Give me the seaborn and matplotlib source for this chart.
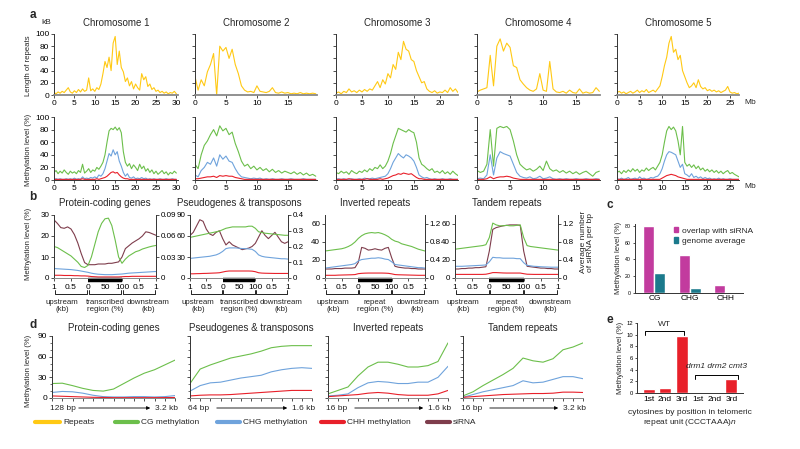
import numpy as np
import pandas as pd
import matplotlib.pyplot as plt
import seaborn as sns
from matplotlib.lines import Line2D
from matplotlib.patches import Patch
from matplotlib import transforms

sns.set_style('ticks')
plt.rcParams['font.family'] = ['Liberation Sans', 'DejaVu Sans']
plt.rcParams['mathtext.fontset'] = 'custom'
plt.rcParams['mathtext.it'] = 'Liberation Sans:italic'
plt.rcParams['mathtext.rm'] = 'Liberation Sans'

YELLOW = '#FFC914'
GREEN = '#6CBF4B'
BLUE = '#6FA3DC'
RED = '#E8202A'
BROWN = '#7E3D4C'
MAGENTA = '#C23B9E'
TEAL = '#1B7A8C'
AXC = '#333333'

# ---------------- panel a data (0.5 Mb bins) ----------------
STEP = 0.5
chrom_names = ['Chromosome 1', 'Chromosome 2', 'Chromosome 3', 'Chromosome 4', 'Chromosome 5']
chrom_len = [30.4, 19.7, 23.5, 18.6, 27.0]
chrom_xticks = [[0, 5, 10, 15, 20, 25, 30], [0, 5, 10, 15], [0, 5, 10, 15, 20],
                [0, 5, 10, 15], [0, 5, 10, 15, 20, 25]]

chr1_rep = [4, 2, 5, 3, 6, 4, 8, 12, 5, 3, 7, 4, 9, 5, 10, 6, 8, 28, 7, 10,
            6, 12, 9, 18, 35, 55, 45, 62, 40, 85, 96, 50, 72, 45, 38, 22, 28, 15, 22, 10,
            18, 12, 8, 35, 25, 30, 14, 18, 9, 12, 6, 8, 4, 6, 3, 5, 2, 4, 3, 6, 2]
chr1_cg = [12, 15, 10, 14, 11, 16, 12, 9, 14, 11, 13, 10, 15, 12, 25, 11, 14, 18, 12, 16,
           14, 20, 17, 22, 28, 40, 60, 78, 82, 80, 84, 79, 83, 75, 45, 28, 22, 26, 18, 24,
           20, 15, 25, 18, 22, 14, 18, 12, 16, 10, 14, 9, 12, 15, 10, 13, 8, 12, 10, 14, 11]
chr1_chg = [1, 2, 1, 2, 1, 1, 2, 1, 2, 1, 3, 1, 2, 1, 5, 2, 3, 2, 4, 3,
            5, 3, 8, 6, 10, 18, 30, 42, 38, 48, 40, 45, 30, 22, 12, 6, 10, 4, 3, 5,
            2, 3, 2, 4, 2, 3, 1, 2, 1, 2, 1, 1, 2, 1, 1, 2, 1, 1, 2, 1, 1]
chr1_chh = [1, 1, 1, 1, 1, 1, 1, 1, 1, 1, 1, 1, 1, 1, 2, 1, 1, 1, 1, 1, 1, 2, 1, 2,
            3, 4, 6, 9, 12, 13, 11, 12, 8, 5, 3, 2, 2,
            1, 1, 1, 1, 1, 1, 1, 1, 1, 1, 1, 1, 1, 1, 1, 1, 1, 1, 1, 1, 1, 1, 1, 1]

chr2_rep = [30, 8, 25, 15, 38, 50, 68, 0, 80, 72, 78, 60, 75, 50, 35, 15,
            8, 5, 6, 4, 15, 6, 5, 4, 6, 12, 4, 3, 5, 3, 4, 2, 3, 2, 4, 2, 3, 2, 3, 2]
chr2_cg = [25, 18, 40, 55, 62, 72, 80, 70, 86, 78, 82, 72, 76, 58, 45, 30, 22, 25, 18, 22,
           16, 20, 15, 18, 13, 17, 12, 15, 11, 14, 12, 10, 13, 9, 12, 8, 11, 7, 9, 6]
chr2_chg = [8, 5, 15, 20, 28, 25, 35, 22, 40, 33, 38, 30, 28, 18, 10, 5, 4, 3, 2, 3,
            2, 3, 1, 2, 1, 2, 1, 1, 2, 1, 1, 2, 1, 1, 1, 2, 1, 1, 1, 1]
chr2_chh = [2, 2, 3, 4, 5, 5, 6, 4, 7, 6, 7, 6, 6, 4, 3, 2,
            1, 1, 1, 1, 1, 1, 1, 1, 1, 1, 1, 1, 1, 1, 1, 1, 1, 1, 1, 1, 1, 1, 1, 1]

chr3_rep = [3, 5, 2, 6, 4, 10, 5, 7, 4, 8, 5, 9, 6, 10, 8, 15, 22, 12, 25, 18, 35, 28, 50, 42,
            70, 58, 88, 75, 72, 58, 55, 40, 30, 20, 22, 10, 6, 4, 7, 3, 5, 4, 8, 4, 12, 6, 10, 4]
chr3_cg = [12, 10, 14, 11, 13, 9, 15, 12, 10, 14, 12, 16, 13, 18, 15, 20, 18, 24, 18, 22,
           30, 42, 58, 70, 82, 80, 78, 76, 80, 77, 75, 60, 35, 25, 22, 18, 15, 18, 12, 14,
           11, 15, 10, 13, 9, 14, 10, 7]
chr3_chg = [1, 2, 1, 2, 1, 1, 2, 1, 1, 2, 1, 3, 2, 2, 3, 2, 3, 4,
            5, 6, 10, 18, 28, 35, 42, 38, 35, 40, 38, 35, 30, 20, 8, 5, 3, 4,
            2, 1, 2, 1, 1, 2, 1, 1, 2, 1, 1, 1]
chr3_chh = [1, 1, 1, 1, 1, 2, 1, 1, 1, 1, 1, 1, 2, 1, 1, 1, 1, 2, 1, 2,
            3, 5, 7, 8, 10, 9, 11, 10, 9, 10, 7, 4, 2, 2,
            1, 1, 1, 1, 1, 1, 1, 1, 1, 1, 1, 1, 1, 1]

chr4_rep = [5, 8, 10, 12, 65, 15, 80, 92, 72, 85, 78, 48, 45, 25, 18, 12, 8, 6, 10, 35,
            8, 6, 55, 10, 5, 4, 6, 3, 8, 4, 3, 10, 3, 5, 3, 4, 12, 6]
chr4_cg = [15, 12, 14, 25, 80, 22, 82, 85, 83, 85, 80, 62, 40, 25, 20, 16, 18, 14, 17, 22,
           15, 30, 18, 14, 16, 12, 15, 11, 14, 10, 13, 9, 12, 14, 10, 6, 12, 14]
chr4_chg = [2, 3, 2, 8, 40, 8, 35, 45, 42, 40, 38, 25, 12, 6, 4, 3, 5, 2, 3, 6,
            2, 3, 5, 2, 1, 2, 1, 2, 1, 1, 2, 1, 1, 2, 1, 1, 2, 1]
chr4_chh = [1, 1, 1, 2, 5, 2, 4, 5, 5, 6, 5, 3, 2, 1,
            1, 1, 1, 1, 1, 1, 1, 1, 1, 1, 1, 1, 1, 1, 1, 1, 1, 1, 1, 1, 1, 1, 1, 1]

chr5_rep = [4, 6, 3, 5, 2, 4, 6, 3, 5, 8, 4, 7, 5, 9, 4, 6, 8, 5, 10, 15,
            30, 48, 62, 85, 96, 70, 75, 58, 65, 40, 30, 20, 12, 15, 20, 12, 25, 14, 10, 12,
            7, 9, 6, 8, 5, 7, 4, 6, 8, 14, 5, 3, 4, 2, 3]
chr5_cg = [12, 14, 10, 15, 12, 16, 13, 18, 14, 17, 12, 16, 14, 19, 15, 18, 20, 16, 22, 28,
           40, 60, 78, 85, 80, 84, 78, 62, 40, 85, 28, 22, 25, 20, 24, 18, 22, 16, 19, 14,
           17, 13, 16, 12, 15, 11, 14, 10, 13, 15, 10, 12, 9, 7, 5]
chr5_chg = [2, 1, 3, 1, 2, 4, 1, 2, 3, 1, 5, 2, 3, 1, 2, 4, 3, 5,
            6, 10, 18, 30, 40, 45, 44, 42, 40, 30, 20, 25, 10, 8, 5, 10, 4, 6,
            3, 5, 2, 4, 2, 3, 1, 2, 1, 3, 1, 2, 1, 1, 2, 1, 1, 1, 1]
chr5_chh = [1, 1, 1, 1, 1, 1, 1, 1, 1, 1, 1, 1, 1, 1, 1, 1, 1, 1, 1, 1,
            3, 5, 7, 8, 9, 8, 7, 5, 4, 3, 2,
            1, 1, 1, 1, 1, 1, 1, 1, 1, 1, 1, 1, 1, 1, 1, 1, 1, 1, 1, 1, 1, 1, 1, 1]

rep_all = [chr1_rep, chr2_rep, chr3_rep, chr4_rep, chr5_rep]
cg_all = [chr1_cg, chr2_cg, chr3_cg, chr4_cg, chr5_cg]
chg_all = [chr1_chg, chr2_chg, chr3_chg, chr4_chg, chr5_chg]
chh_all = [chr1_chh, chr2_chh, chr3_chh, chr4_chh, chr5_chh]

# ---------------- panel b data (metagene, 0-1 upstream, 1-2 body, 2-3 downstream) ----------------
b_titles = ['Protein-coding genes', 'Pseudogenes & transposons', 'Inverted repeats', 'Tandem repeats']
b_x = [i / 10 for i in range(31)]
pc_cg = [15, 14.5, 13.5, 12.5, 11.5, 10.5, 9, 7.5, 5.5, 5, 6, 10, 16, 22, 26, 28.2, 28.5, 25, 18, 10,
         7, 9, 10.5, 11.5, 12.5, 13, 13.8, 14.3, 14.8, 15.2, 15.5]
pc_chg = [4.5, 4.4, 4.3, 4.2, 4.1, 4, 3.8, 3.6, 3.3, 3, 2.7, 2.3, 2, 1.8, 1.7, 1.6, 1.6, 1.6, 1.7, 1.8,
          1.9, 2.1, 2.3, 2.4, 2.5, 2.6, 2.7, 2.8, 2.9, 3, 3.1]
pc_chh = [1.3, 1.3, 1.3, 1.2, 1.2, 1.2, 1.1, 1.1, 1, 1, 0.9, 0.7, 0.6, 0.5, 0.5, 0.5, 0.5, 0.5, 0.5, 0.5,
          0.6, 0.7, 0.7, 0.8, 0.8, 0.8, 0.8, 0.8, 0.8, 0.8, 0.8]
pc_sirna = [0.083, 0.078, 0.072, 0.071, 0.073, 0.07, 0.062, 0.05, 0.035, 0.022, 0.019, 0.019, 0.019,
            0.02, 0.02, 0.02, 0.021, 0.021, 0.022, 0.023, 0.03, 0.042, 0.046, 0.05, 0.053, 0.056,
            0.06, 0.066, 0.065, 0.063, 0.061]
ps_cg = [58, 59, 60, 61, 62, 63, 64, 65, 66, 67, 69, 71, 72, 73, 73, 73, 73, 73, 74, 74,
         71, 66, 65, 64, 63.5, 63, 62.5, 62, 61.5, 61, 61]
ps_chg = [28, 28.5, 29, 29.5, 30, 30.5, 31, 32, 33, 35, 38, 42, 43, 43, 43, 42.5, 42, 42, 41.5, 41,
          38, 33, 31, 30, 29.5, 29, 28.5, 28, 27.5, 27.5, 27]
ps_chh = [6, 6, 6.2, 6.3, 6.5, 6.6, 6.8, 7, 7.2, 7.5, 8.5, 9.5, 10, 10, 10, 10, 10, 10, 10, 9.8,
          9, 7.5, 7, 6.8, 6.7, 6.6, 6.5, 6.5, 6.5, 6.5, 6.5]
ps_sirna = [0.27, 0.29, 0.33, 0.37, 0.36, 0.31, 0.28, 0.27, 0.29, 0.3, 0.25, 0.21, 0.23, 0.21, 0.2,
            0.19, 0.18, 0.185, 0.19, 0.2, 0.22, 0.26, 0.3, 0.27, 0.25, 0.27, 0.29, 0.26, 0.23, 0.22, 0.23]
ir_cg = [30, 30.5, 31, 31.5, 32, 32.5, 33.5, 35, 37, 40, 44, 47, 49, 50, 50.5, 50, 50.5, 49.5, 48, 46,
         43, 41, 40, 38, 37, 36, 35, 33.5, 32, 31, 30]
ir_chg = [11, 11.5, 12, 12.5, 13, 13.5, 14, 14.5, 15, 16, 19, 20.5, 21, 21.5, 22, 22, 22.5, 22, 21, 20.5,
          18, 15, 14.5, 14, 13.5, 13, 12.5, 12, 11.5, 11.5, 11]
ir_chh = [3, 3, 3, 3, 3.2, 3.3, 3.4, 3.5, 3.6, 3.8, 4.8, 5.2, 5.4, 5.5, 5.5, 5.5, 5.5, 5.5, 5.4, 5.2,
          4.6, 3.8, 3.6, 3.5, 3.4, 3.3, 3.2, 3.1, 3, 3, 3]
ir_sirna = [0.2, 0.2, 0.2, 0.21, 0.21, 0.21, 0.22, 0.22, 0.22, 0.23, 0.35, 0.68, 0.66, 0.62, 0.63,
            0.65, 0.63, 0.62, 0.66, 0.68, 0.45, 0.26, 0.24, 0.23, 0.22, 0.22, 0.21, 0.21, 0.2, 0.2, 0.2]
tr_cg = [32, 32.5, 33, 33.5, 34, 34.5, 35, 35.5, 36, 37, 45, 61, 59, 58, 58, 58.5, 58, 58, 58.5, 59,
         45, 36, 35, 34.5, 34, 33.5, 33, 32.5, 32, 31.5, 31]
tr_chg = [13, 13, 13, 13.2, 13.4, 13.6, 13.8, 14, 14.2, 14.5, 18, 23, 22.5, 22.5, 22, 22, 22, 22, 21.5,
          21.5, 17, 14, 13.5, 13, 12.8, 12.5, 12.3, 12.2, 12, 12, 12]
tr_chh = [4, 4, 4, 4, 4, 4, 4, 4, 4, 4.2, 5, 6, 6, 5.8, 5.6, 5.5, 5.5, 5.5, 5.5, 5.5,
          4.8, 4.2, 4.1, 4, 4, 4, 4, 4, 4, 4, 4]
tr_sirna = [0.2, 0.2, 0.21, 0.21, 0.22, 0.22, 0.23, 0.23, 0.24, 0.25, 0.6, 1.08, 1.12, 1.14, 1.16,
            1.17, 1.18, 1.18, 1.18, 1.17, 0.6, 0.26, 0.25, 0.24, 0.23, 0.22, 0.22, 0.21, 0.21, 0.2, 0.2]
b_series = [(pc_cg, pc_chg, pc_chh, pc_sirna), (ps_cg, ps_chg, ps_chh, ps_sirna),
            (ir_cg, ir_chg, ir_chh, ir_sirna), (tr_cg, tr_chg, tr_chh, tr_sirna)]
b_left_ticks = [[0, 10, 20, 30], [0, 30, 60, 90], [0, 20, 40, 60], [0, 20, 40, 60]]
b_right_ticks = [[0, 0.03, 0.06, 0.09], [0, 0.1, 0.2, 0.3, 0.4], [0, 0.4, 0.8, 1.2], [0, 0.4, 0.8, 1.2]]
b_right_labels = [['0', '0.03', '0.06', '0.09'], ['0', '0.1', '0.2', '0.3', '0.4'],
                  ['0', '0.4', '0.8', '1.2'], ['0', '0.4', '0.8', '1.2']]
b_left_max = [30, 90, 70, 70]
b_right_max = [0.09, 0.4, 1.4, 1.4]
b_xticklabels = ['1', '0.5', '0', '50', '100', '0.5', '1']
b_body_names = ['transcribed\nregion (%)', 'transcribed\nregion (%)', 'repeat\nregion (%)', 'repeat\nregion (%)']

# ---------------- panel c data ----------------
c_context = ['CG', 'CHG', 'CHH']
c_overlap = [80, 45, 10]
c_genome = [24, 6.5, 1.5]

# ---------------- panel d data (size classes, small -> large) ----------------
d_titles = b_titles
d_start = ['128 bp', '64 bp', '16 bp', '16 bp']
d_end = ['3.2 kb', '1.6 kb', '1.6 kb', '3.2 kb']
d_pc_cg = [21, 21.5, 18, 14, 11, 10, 13, 21, 29, 36, 41, 48, 55]
d_pc_chg = [8, 9.5, 9, 7, 4, 2, 1.5, 1.5, 2, 2, 1.5, 2, 3.5]
d_pc_chh = [3, 2.5, 2, 1.5, 1, 0.8, 0.5, 0.5, 0.5, 0.5, 0.5, 0.6, 0.7]
d_ps_cg = [21, 42, 48, 53, 58, 61, 64, 68, 73, 75, 76, 76, 76]
d_ps_chg = [10, 18, 22, 23, 26, 29, 31, 33, 38, 41, 43, 44, 43]
d_ps_chh = [3, 4, 4.5, 4.5, 5, 6, 7, 8, 9, 10, 11, 11, 11]
d_ir_cg = [6, 11, 16, 32, 45, 52, 52, 49, 45, 45, 47, 53, 80]
d_ir_chg = [3, 4, 6, 15, 22, 24, 23, 21, 21, 23, 23, 30, 46]
d_ir_chh = [2, 3, 4, 5, 7, 8, 7, 5, 4, 4, 4, 6, 11]
d_tr_cg = [3, 9, 18, 26, 34, 43, 58, 54, 52, 57, 70, 74, 80]
d_tr_chg = [1, 5, 9, 12, 15, 18, 25, 22, 23, 27, 31, 31, 28]
d_tr_chh = [1, 2, 3, 4, 5, 5.5, 6, 6.5, 6.5, 7, 8.5, 8.5, 8]
d_series = [(d_pc_cg, d_pc_chg, d_pc_chh), (d_ps_cg, d_ps_chg, d_ps_chh),
            (d_ir_cg, d_ir_chg, d_ir_chh), (d_tr_cg, d_tr_chg, d_tr_chh)]

# ---------------- panel e data ----------------
e_labels = ['1st', '2nd', '3rd', '1st', '2nd', '3rd']
e_group = ['WT', 'WT', 'WT', 'mut', 'mut', 'mut']
e_level = [0.7, 0.9, 9.8, 0, 0, 2.4]

legend_names = ['Repeats', 'CG methylation', 'CHG methylation', 'CHH methylation', 'siRNA']
legend_colors = [YELLOW, GREEN, BLUE, RED, BROWN]

# ---------------- layout helpers (pixel coords, y from top) ----------------
W, H = 800, 449
fig = plt.figure(figsize=(8, 4.49), dpi=100)


def box(x0, y0, x1, y1):
    return fig.add_axes([x0 / W, 1 - y1 / H, (x1 - x0) / W, (y1 - y0) / H])


def ptext(x, y, s, **kw):
    kw.setdefault('ha', 'center')
    kw.setdefault('va', 'center')
    return fig.text(x / W, 1 - y / H, s, **kw)


def pline(xs, ys, **kw):
    fig.add_artist(Line2D([x / W for x in xs], [1 - y / H for y in ys], **kw))


def style(ax, sides=('left', 'bottom')):
    for s in ['left', 'right', 'top', 'bottom']:
        ax.spines[s].set_visible(s in sides)
        ax.spines[s].set_color(AXC)
        ax.spines[s].set_linewidth(0.7)
    ax.tick_params(colors=AXC, labelcolor='black', width=0.6, length=2, labelsize=6, pad=1.5)
    ax.set_xlabel('')
    ax.set_ylabel('')


TITLE_FS = 7
LAB_FS = 6
YLAB_FS = 5.6

# ---------------- panel a ----------------
a_x = [(54, 178), (195, 317), (336, 458), (477, 600), (617, 739)]
for i in range(5):
    x0, x1 = a_x[i]
    pos = [k * STEP for k in range(len(rep_all[i]))]
    ax = box(x0, 34, x1, 95)
    sns.lineplot(x=pos, y=rep_all[i], ax=ax, color=YELLOW, lw=0.8)
    ax.set_xlim(0, chrom_len[i])
    ax.set_ylim(0, 100)
    style(ax)
    ax.spines['bottom'].set_color('#888888')
    ax.spines['bottom'].set_linewidth(1.3)
    ax.set_xticks(chrom_xticks[i])
    ax.set_yticks([0, 20, 40, 60, 80, 100])
    if i > 0:
        ax.set_yticklabels([])
    ptext((x0 + x1) / 2, 23, chrom_names[i], fontsize=TITLE_FS)

    ax = box(x0, 117, x1, 180)
    pos = [k * STEP for k in range(len(cg_all[i]))]
    sns.lineplot(x=pos, y=cg_all[i], ax=ax, color=GREEN, lw=0.8)
    sns.lineplot(x=pos, y=chg_all[i], ax=ax, color=BLUE, lw=0.8)
    sns.lineplot(x=pos, y=chh_all[i], ax=ax, color=RED, lw=0.8)
    ax.set_xlim(0, chrom_len[i])
    ax.set_ylim(0, 100)
    style(ax)
    ax.set_xticks(chrom_xticks[i])
    ax.set_yticks([0, 20, 40, 60, 80, 100])
    if i > 0:
        ax.set_yticklabels([])

ptext(29, 66, 'Length of repeats', rotation=90, fontsize=YLAB_FS)
ptext(29, 150, 'Methylation level (%)', rotation=90, fontsize=YLAB_FS)
ptext(46, 22, 'kB', fontsize=LAB_FS)
ptext(744, 103, 'Mb', fontsize=LAB_FS, ha='left')
ptext(744, 187, 'Mb', fontsize=LAB_FS, ha='left')

# ---------------- panel b ----------------
b_x_px = [(54, 156), (190, 288), (325, 425), (455, 558)]
B_TOP, B_BOT = 215, 278
b_name_pos = [0.24, 1.5, 2.78]
for i in range(4):
    x0, x1 = b_x_px[i]
    cg, chg, chh, sirna = b_series[i]
    ax = box(x0, B_TOP, x1, B_BOT)
    ax2 = ax.twinx()
    sns.lineplot(x=b_x, y=sirna, ax=ax2, color=BROWN, lw=0.8)
    sns.lineplot(x=b_x, y=cg, ax=ax, color=GREEN, lw=0.8)
    sns.lineplot(x=b_x, y=chg, ax=ax, color=BLUE, lw=0.8)
    sns.lineplot(x=b_x, y=chh, ax=ax, color=RED, lw=0.8)
    ax.set_zorder(ax2.get_zorder() + 1)
    ax.patch.set_visible(False)
    ax.set_xlim(0, 3)
    ax.set_ylim(0, b_left_max[i])
    ax2.set_ylim(0, b_right_max[i])
    style(ax, sides=('left', 'bottom'))
    style(ax2, sides=('right',))
    ax.spines['bottom'].set_color('#888888')
    ax.set_yticks(b_left_ticks[i])
    ax2.set_yticks(b_right_ticks[i])
    ax2.set_yticklabels(b_right_labels[i])
    ax.set_xticks([0, 0.5, 1, 1.5, 2, 2.5, 3])
    ax.set_xticklabels(b_xticklabels)
    ax.tick_params(axis='x', length=2.5, pad=1.5)
    ax.tick_params(axis='y', labelsize=5.8)
    ax2.tick_params(axis='y', labelsize=5.8)
    ax2.set_ylabel('')
    trans = transforms.blended_transform_factory(ax.transData, fig.transFigure)
    # black bar over the body region
    ax.plot([1, 2], [1 - 280 / H] * 2, color='black', lw=3.2, transform=trans,
            clip_on=False, solid_capstyle='butt')
    # brackets under the tick labels
    for a, b in [(0, 1), (1, 2), (2, 3)]:
        ax.plot([a + 0.02, a + 0.02, b - 0.02, b - 0.02],
                [1 - 290 / H, 1 - 294 / H, 1 - 294 / H, 1 - 290 / H],
                color='black', lw=0.6, transform=trans, clip_on=False)
    names = ['upstream\n(kb)', b_body_names[i], 'downstream\n(kb)']
    for k, nm in enumerate(names):
        ax.text(b_name_pos[k], 1 - 306 / H, nm, transform=trans, ha='center', va='center',
                fontsize=5.7, linespacing=1.1)
    ptext((x0 + x1) / 2, 203, b_titles[i], fontsize=TITLE_FS)

ptext(29, 244, 'Methylation level (%)', rotation=90, fontsize=YLAB_FS)
ptext(587, 242, 'Average number\nof siRNA per bp', rotation=90, fontsize=LAB_FS, linespacing=1.1)

# ---------------- panel c ----------------
axc = box(635, 224, 743, 293)
c_df = pd.DataFrame({'context': c_context * 2,
                     'level': c_overlap + c_genome,
                     'group': ['overlap with siRNA'] * 3 + ['genome average'] * 3})
sns.barplot(data=c_df, x='context', y='level', hue='group', palette=[MAGENTA, TEAL],
            ax=axc, width=0.62, legend=False, saturation=1)
axc.set_xlim(-0.55, 2.5)
axc.set_ylim(0, 82)
style(axc)
axc.set_yticks([0, 20, 40, 60, 80])
axc.tick_params(axis='y', labelsize=3.8, length=1.5)
axc.tick_params(axis='x', labelsize=6, length=0)
axc.legend(handles=[Patch(color=MAGENTA, label='overlap with siRNA'),
                    Patch(color=TEAL, label='genome average')],
           loc='upper left', bbox_to_anchor=(670 / W, 1 - 223 / H), bbox_transform=fig.transFigure,
           frameon=False, fontsize=6, handlelength=0.5, handleheight=0.6, handletextpad=0.4,
           borderpad=0, labelspacing=0.3)
ptext(618, 258, 'Methylation level (%)', rotation=90, fontsize=YLAB_FS)

# ---------------- panel d ----------------
d_x_px = [(52, 175), (190, 312), (328, 448), (463, 583)]
D_TOP, D_BOT = 336, 398
d_pos = list(range(len(d_pc_cg)))
for i in range(4):
    x0, x1 = d_x_px[i]
    cg, chg, chh = d_series[i]
    ax = box(x0, D_TOP, x1, D_BOT)
    sns.lineplot(x=d_pos, y=cg, ax=ax, color=GREEN, lw=0.8)
    sns.lineplot(x=d_pos, y=chg, ax=ax, color=BLUE, lw=0.8)
    sns.lineplot(x=d_pos, y=chh, ax=ax, color=RED, lw=0.8)
    ax.set_xlim(0, len(d_pos) - 1)
    ax.set_ylim(0, 90)
    style(ax)
    ax.spines['bottom'].set_color('#888888')
    ax.set_xticks(d_pos)
    ax.set_xticklabels([])
    ax.set_yticks([0, 30, 60, 90])
    ax.set_yticks(range(0, 91, 10), minor=True)
    ax.tick_params(which='minor', length=1.5, width=0.5, colors=AXC)
    if i > 0:
        ax.set_yticklabels([])
    ptext((x0 + x1) / 2, 328, d_titles[i], fontsize=TITLE_FS)
    ptext(x0 - 2, 408, d_start[i], fontsize=LAB_FS, ha='left')
    ptext(x1 + 3, 408, d_end[i], fontsize=LAB_FS, ha='right')
    ax.annotate('', xy=(x1 - 22, H - 408), xytext=(x0 + 24, H - 408), xycoords='figure pixels',
                arrowprops=dict(arrowstyle='-|>', lw=0.6, color='black', mutation_scale=5),
                annotation_clip=False)

ptext(29, 371, 'Methylation level (%)', rotation=90, fontsize=YLAB_FS)

# ---------------- panel e ----------------
axe = box(637, 323, 743, 393)
e_df = pd.DataFrame({'key': [g + l for g, l in zip(e_group, e_labels)], 'level': e_level})
sns.barplot(data=e_df, x='key', y='level', color=RED, ax=axe, width=0.72, saturation=1)
axe.set_xlim(-0.7, 5.7)
axe.set_ylim(0, 12)
style(axe)
axe.set_xticks(range(6))
axe.set_xticklabels(e_labels)
axe.set_yticks([0, 2, 4, 6, 8, 10, 12])
axe.tick_params(axis='y', labelsize=4.2, length=1.5)
axe.tick_params(axis='x', labelsize=LAB_FS, length=0, pad=2)
pline([645, 645, 684, 684], [335, 331, 331, 335], color='black', lw=0.7)
ptext(664, 325, 'WT', fontsize=LAB_FS)
pline([695, 695, 738, 738], [379, 375, 375, 379], color='black', lw=0.7)
ptext(717, 367, 'drm1 drm2 cmt3', fontsize=LAB_FS, style='italic')
ptext(690, 413, 'cytosines by position in telomeric', fontsize=LAB_FS)
ptext(690, 423, r'repeat unit (CCCTAAA)$\it{n}$', fontsize=LAB_FS)
ptext(620, 358, 'Methylation level (%)', rotation=90, fontsize=YLAB_FS)

# ---------------- legend row ----------------
leg_line_x = [(35, 60), (115, 138), (217, 240), (321, 344), (427, 450)]
for (lx0, lx1), nm, col in zip(leg_line_x, legend_names, legend_colors):
    pline([lx0, lx1], [422, 422], color=col, lw=3)
    ptext(lx1 + 3, 422, nm, fontsize=6, ha='left')

# ---------------- panel letters ----------------
for lx, ly, lt in [(33, 15, 'a'), (33, 197, 'b'), (610, 205, 'c'), (33, 325, 'd'), (610, 320, 'e')]:
    ptext(lx, ly, lt, fontsize=8.5, fontweight='bold')

fig.savefig('out.png', dpi=100)
